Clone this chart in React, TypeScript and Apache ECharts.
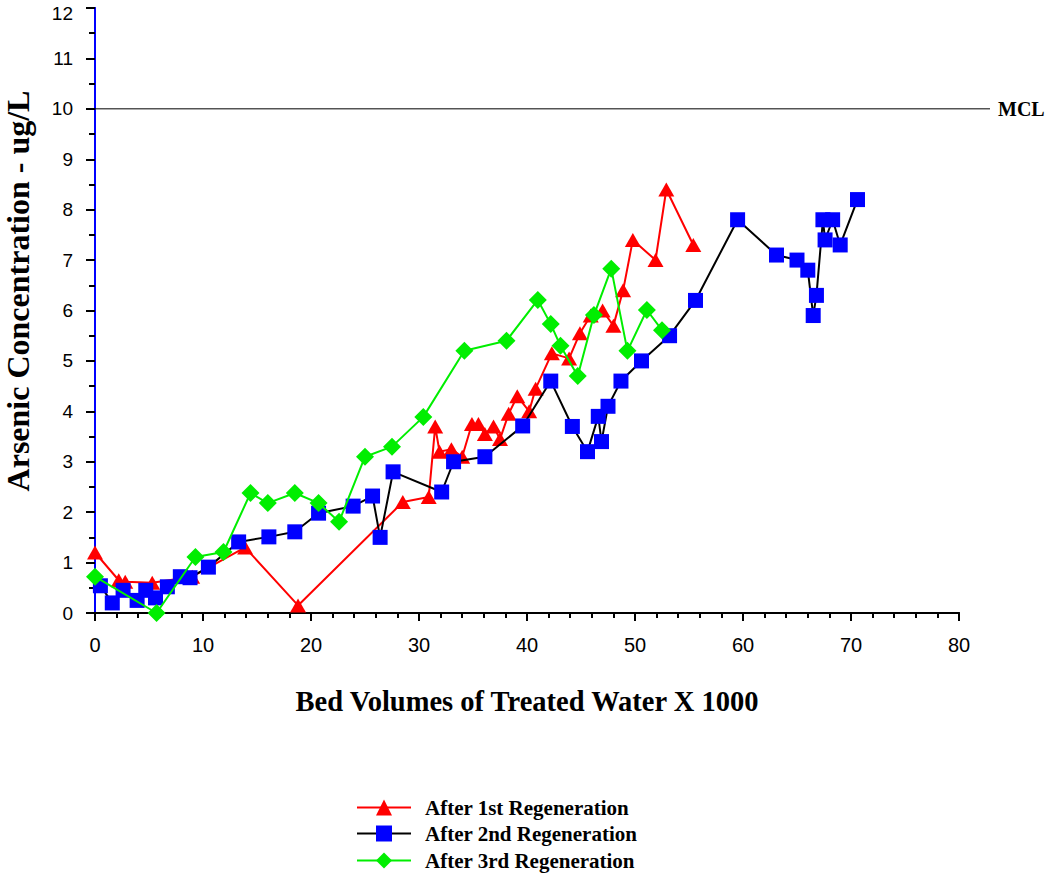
import React, { useEffect, useRef } from "react";
import * as echarts from "echarts";

const seriesNames = ["After 1st Regeneration", "After 2nd Regeneration", "After 3rd Regeneration"];

const firstRegen: [number, number][] = [
  [0, 1.2], [2.2, 0.65], [2.8, 0.62], [5.3, 0.6], [9.0, 0.72], [13.9, 1.3], [18.8, 0.15],
  [28.5, 2.2], [30.9, 2.3], [31.5, 3.7], [31.9, 3.2], [33.0, 3.25], [34.0, 3.1], [34.9, 3.75],
  [35.5, 3.75], [36.1, 3.55], [36.9, 3.7], [37.5, 3.45], [38.3, 3.95], [39.1, 4.3], [40.2, 4.0],
  [40.8, 4.45], [42.3, 5.15], [43.9, 5.05], [44.9, 5.55], [45.9, 5.9], [47.0, 6.0], [48.0, 5.7],
  [48.9, 6.4], [49.8, 7.4], [51.9, 7.0], [52.9, 8.4], [55.4, 7.3],
];

const secondRegen: [number, number][] = [
  [0.5, 0.54], [1.6, 0.2], [2.6, 0.45], [3.9, 0.25], [4.7, 0.45], [5.6, 0.3], [6.7, 0.52],
  [7.9, 0.72], [8.8, 0.7], [10.5, 0.91], [13.3, 1.41], [16.1, 1.51], [18.5, 1.61], [20.7, 1.98],
  [23.9, 2.12], [25.7, 2.32], [26.4, 1.5], [27.6, 2.8], [32.1, 2.4], [33.2, 3.0], [36.1, 3.1],
  [39.6, 3.71], [42.2, 4.6], [44.2, 3.7], [45.6, 3.2], [46.6, 3.9], [46.9, 3.4], [47.5, 4.1],
  [48.7, 4.6], [50.6, 5.0], [53.2, 5.5], [55.6, 6.2], [59.5, 7.8], [63.1, 7.1], [65.0, 7.0],
  [66.0, 6.8], [66.5, 5.9], [66.8, 6.3], [67.4, 7.8], [67.6, 7.4], [68.3, 7.8], [69.0, 7.3],
  [70.6, 8.2],
];

const thirdRegen: [number, number][] = [
  [0, 0.72], [5.7, 0.0], [9.3, 1.11], [11.9, 1.21], [14.4, 2.38], [16.0, 2.18], [18.5, 2.38],
  [20.7, 2.18], [22.6, 1.81], [25.0, 3.1], [27.5, 3.3], [30.4, 3.89], [34.2, 5.2], [38.1, 5.4],
  [41.0, 6.21], [42.2, 5.73], [43.1, 5.3], [44.7, 4.7], [46.2, 5.91], [47.8, 6.83], [49.3, 5.2],
  [51.1, 6.01], [52.5, 5.61],
];

const yMax = 12;
const mclValue = 10;
const mclLabel = "MCL";
const xTitle = "Bed Volumes of Treated Water X 1000";
const yTitle = "Arsenic Concentration - ug/L";

export default function App() {
  const ref = useRef<HTMLDivElement>(null);
  useEffect(() => {
    if (!ref.current) return;
    const chart = echarts.init(ref.current, null, { renderer: "svg" });
    const serif = "'Liberation Serif', 'Times New Roman', serif";
    const sans = "'Liberation Sans', Arial, sans-serif";
    const legendTops = [792, 818, 845];
    const legendText = { fontFamily: serif, fontWeight: "bold", fontSize: 21, color: "#000", padding: [0, 0, 0, 9] };
    chart.setOption({
      animation: false,
      backgroundColor: "#ffffff",
      grid: { left: 95, top: 8, width: 864, height: 605, containLabel: false, outerBoundsMode: "none" },
      legend: seriesNames.map((n, i) => ({
        orient: "vertical",
        left: 351,
        top: legendTops[i],
        itemWidth: 54,
        itemHeight: 20,
        textStyle: legendText,
        data: [n],
      })),
      xAxis: [
        {
          type: "value",
          min: 0,
          max: 80,
          interval: 10,
          name: xTitle,
          nameLocation: "middle",
          nameGap: 74,
          nameTextStyle: { fontFamily: serif, fontWeight: "bold", fontSize: 28.5, color: "#000" },
          axisLine: { lineStyle: { color: "#000", width: 2 } },
          axisTick: { show: true, length: 8, lineStyle: { color: "#000", width: 2 } },
          minorTick: { show: true, splitNumber: 5, length: 5, lineStyle: { color: "#000", width: 2 } },
          splitLine: { show: false },
          axisLabel: { fontFamily: sans, fontSize: 20, color: "#000", margin: 22 },
        },
        {
          type: "value",
          position: "top",
          min: 0,
          max: 80,
          interval: 10,
          axisLine: { show: true, lineStyle: { color: "#000", width: 2 } },
          axisTick: { show: false },
          axisLabel: { show: false },
          splitLine: { show: false },
        },
      ],
      yAxis: [
        {
          type: "value",
          min: 0,
          max: yMax,
          interval: 1,
          axisLine: { show: true, lineStyle: { color: "#0000ff", width: 2 } },
          axisTick: { show: true, length: 9, lineStyle: { color: "#000", width: 2 } },
          minorTick: { show: true, splitNumber: 2, length: 5, lineStyle: { color: "#000", width: 2 } },
          splitLine: { show: false },
          axisLabel: {
            fontFamily: sans,
            fontSize: 19,
            color: "#000",
            margin: 22,
            formatter: (v: number) => (v === yMax ? "{top|" + v + "}" : String(v)),
            rich: { top: { fontFamily: sans, fontSize: 19, color: "#000", padding: [10, 0, 0, 0] } },
          },
        },
        {
          type: "value",
          position: "right",
          min: 0,
          max: yMax,
          interval: 0.5,
          axisLine: { show: true, lineStyle: { color: "#0000ff", width: 2 } },
          axisTick: { show: true, inside: true, length: 6, lineStyle: { color: "#000", width: 2 } },
          axisLabel: { show: false },
          splitLine: { show: false },
        },
      ],
      series: [
        {
          name: seriesNames[0],
          type: "line",
          data: firstRegen,
          symbol: "triangle",
          symbolSize: [16, 14],
          itemStyle: { color: "#ff0000" },
          lineStyle: { color: "#ff0000", width: 2 },
          z: 2,
        },
        {
          name: seriesNames[1],
          type: "line",
          data: secondRegen,
          symbol: "rect",
          symbolSize: 15,
          itemStyle: { color: "#0000ff" },
          lineStyle: { color: "#000000", width: 2 },
          z: 3,
        },
        {
          name: seriesNames[2],
          type: "line",
          data: thirdRegen,
          symbol: "diamond",
          symbolSize: 18,
          itemStyle: { color: "#00ee00" },
          lineStyle: { color: "#00ee00", width: 2 },
          z: 4,
        },
      ],
    });
    const yPx = chart.convertToPixel({ yAxisIndex: 0 }, mclValue) as number;
    const x0 = chart.convertToPixel({ xAxisIndex: 0 }, 0) as number;
    const x80 = chart.convertToPixel({ xAxisIndex: 0 }, 80) as number;
    chart.setOption({
      graphic: [
        {
          type: "line",
          shape: { x1: x0, y1: yPx, x2: x80 + 31, y2: yPx },
          style: { stroke: "#000", lineWidth: 1 },
          z: 1,
        },
        {
          type: "text",
          x: x80 + 39,
          y: yPx,
          style: {
            text: mclLabel,
            fontFamily: serif,
            fontWeight: "bold",
            fontSize: 20,
            fill: "#000",
            verticalAlign: "middle",
            align: "left",
          },
        },
        {
          type: "text",
          x: 18,
          y: 291,
          rotation: Math.PI / 2,
          style: {
            text: yTitle,
            fontFamily: serif,
            fontWeight: "bold",
            fontSize: 32,
            fill: "#000",
            verticalAlign: "middle",
            align: "center",
          },
        },
      ],
    });
    return () => chart.dispose();
  }, []);
  return <div ref={ref} style={{ position: "absolute", left: 0, top: 0, width: 1050, height: 873 }} />;
}
